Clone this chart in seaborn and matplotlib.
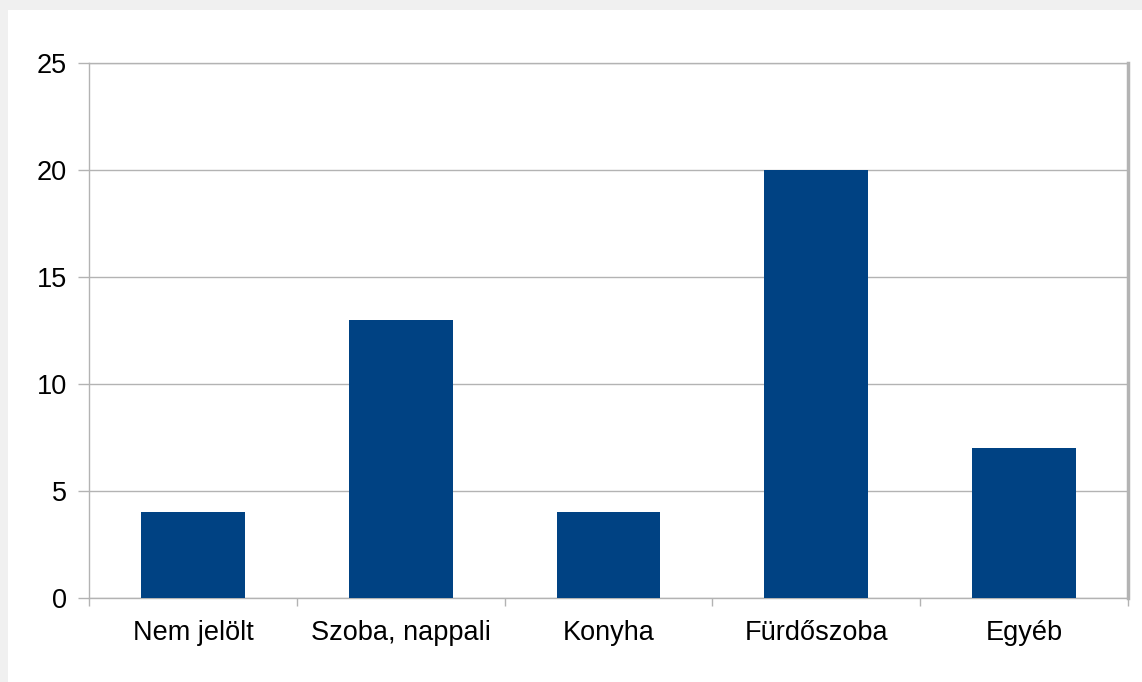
import matplotlib
matplotlib.use('Agg')
import matplotlib.pyplot as plt
import seaborn as sns
import pandas as pd
import numpy as np
from matplotlib.patches import Rectangle

categories = ["Nem jelölt", "Szoba, nappali", "Konyha", "Fürdőszoba", "Egyéb"]
values = [4, 13, 4, 20, 7]
y_ticks = [0, 5, 10, 15, 20, 25]

sns.set_style("white")
plt.rcParams['font.family'] = ['Liberation Sans', 'DejaVu Sans']

df = pd.DataFrame({"category": categories, "value": values})

fig = plt.figure(figsize=(11.42, 6.82), dpi=100, facecolor="#f0f0f0")
# white panel behind the axes
fig.patches.append(Rectangle((8 / 1142, 0), 1 - 8 / 1142, 1 - 10 / 682,
                             transform=fig.transFigure, facecolor="white",
                             edgecolor="none", zorder=-10))
ax = fig.add_axes([89 / 1142, 1 - 598 / 682, (1128 - 89) / 1142, (598 - 63) / 682])
ax.set_facecolor("white")

sns.barplot(data=df, x="category", y="value", color="#004283", width=0.5,
            saturation=1, linewidth=0, ax=ax, zorder=3)

ax.set_xlim(-0.5, len(categories) - 0.5)
ax.set_ylim(0, 25)
ax.set_yticks(y_ticks)
ax.yaxis.grid(True, color="#b3b3b3", linewidth=1)
ax.set_axisbelow(True)

ax.set_xticks(range(len(categories)))
ax.set_xticklabels(categories, fontsize=19.5, color="black")
ax.set_xticks(np.arange(-0.5, len(categories)), minor=True)
ax.tick_params(axis="x", which="major", length=0, pad=16, bottom=True)
ax.tick_params(axis="x", which="minor", length=6, color="#b3b3b3", width=1, bottom=True)
ax.tick_params(axis="y", length=8, color="#b3b3b3", width=1, labelsize=19.5,
               labelcolor="black", pad=8, left=True)
ax.set_xlabel("")
ax.set_ylabel("")

for side in ["left", "bottom", "top", "right"]:
    ax.spines[side].set_visible(True)
    ax.spines[side].set_color("#b3b3b3")
    ax.spines[side].set_linewidth(1)
ax.spines["right"].set_linewidth(2.5)

fig.savefig("out.png", dpi=100, facecolor=fig.get_facecolor())
